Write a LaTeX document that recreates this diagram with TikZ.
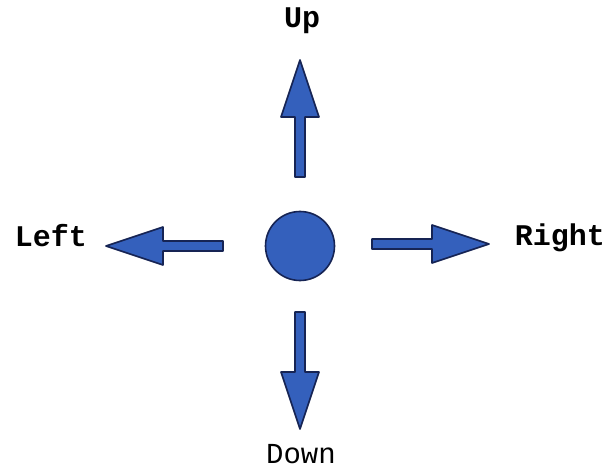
\documentclass[tikz,border=0pt]{standalone}
\usepackage{fontspec}
\setmonofont{Liberation Mono}
\begin{document}
\begin{tikzpicture}[x=1pt,y=-1pt,
  bluefill/.style={fill={rgb,255:red,52;green,96;blue,188},draw={rgb,255:red,22;green,36;blue,84},line width=1.6pt,line join=round},
  lbl/.style={font=\ttfamily\fontsize{30}{36}\selectfont\bfseries,anchor=base,inner sep=0pt},
  lblplain/.style={font=\ttfamily\fontsize{29}{34}\selectfont,anchor=base,inner sep=0pt},
  dirarrow/.pic={\draw[bluefill] (0,-5) -- (60,-5) -- (60,-19) -- (117,0) -- (60,19) -- (60,5) -- (0,5) -- cycle;}]
\useasboundingbox[fill=white] (0,0) rectangle (610,470);
\node[bluefill,circle,minimum size=69pt,inner sep=0pt] (dot) at (300,246) {};
\pic[rotate=90] (up) at (300,177) {dirarrow};
\pic[rotate=180] (left) at (223,246) {dirarrow};
\pic[rotate=0] (right) at (372,244) {dirarrow};
\pic[rotate=-90] (down) at (300,312) {dirarrow};
\node[lbl] (uplbl) at (302,28) {Up};
\node[lbl] (leftlbl) at (51,247) {Left};
\node[lbl] (rightlbl) at (560,246) {Right};
\node[lblplain] (downlbl) at (301,463) {Down};
\end{tikzpicture}
\end{document}
